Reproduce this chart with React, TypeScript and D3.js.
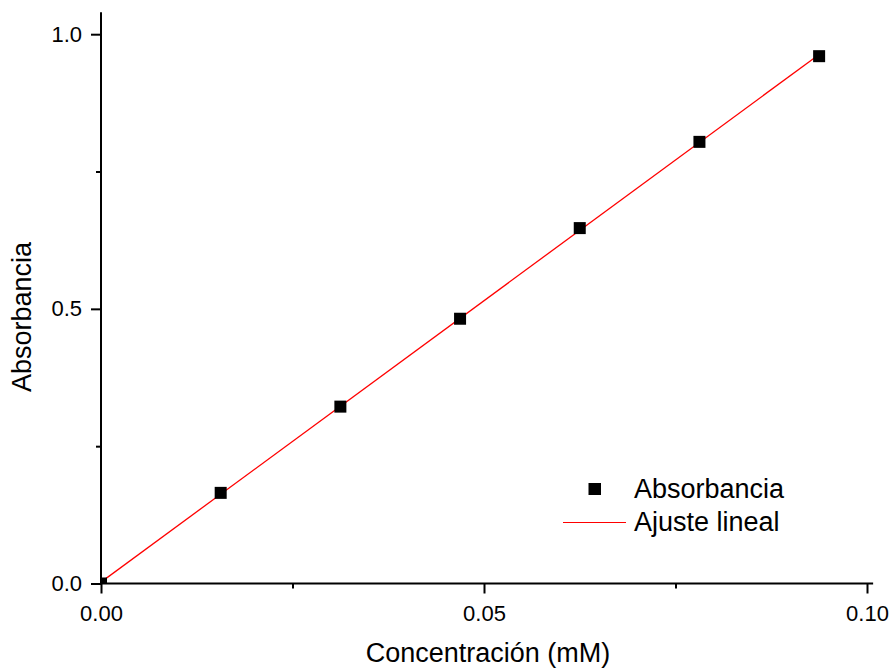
import React, { useEffect, useRef } from "react";
import * as d3 from "d3";

// Calibration data: concentration (mM) vs absorbance
const concentrations = [0, 0.015625, 0.03125, 0.046875, 0.0625, 0.078125, 0.09375];
const absorbances = [0, 0.165, 0.322, 0.482, 0.647, 0.804, 0.96];

const xMajorTicks = [0, 0.05, 0.1];
const xMinorTicks = [0.025, 0.075];
const yMajorTicks = [0, 0.5, 1.0];
const yMinorTicks = [0.25, 0.75];

const legendLabels = ["Absorbancia", "Ajuste lineal"];
const xTitle = "Concentración (mM)";
const yTitle = "Absorbancia";

const WIDTH = 890;
const HEIGHT = 670;
const FONT = "Arial, 'Liberation Sans', Helvetica, sans-serif";

export default function App() {
  const ref = useRef<SVGSVGElement | null>(null);

  useEffect(() => {
    const svg = d3.select(ref.current);
    svg.selectAll("*").remove();

    const x = d3.scaleLinear().domain([0, 0.1]).range([101, 867]);
    const y = d3.scaleLinear().domain([0, 1]).range([583.5, 34.2]);

    // least-squares straight-line fit
    const n = concentrations.length;
    const mx = d3.mean(concentrations) as number;
    const my = d3.mean(absorbances) as number;
    let sxy = 0;
    let sxx = 0;
    for (let i = 0; i < n; i++) {
      sxy += (concentrations[i] - mx) * (absorbances[i] - my);
      sxx += (concentrations[i] - mx) ** 2;
    }
    const slope = sxy / sxx;
    const intercept = my - slope * mx;
    const fitX = [0, concentrations[n - 1]];

    const defs = svg.append("defs");
    defs
      .append("clipPath")
      .attr("id", "plot-clip")
      .append("rect")
      .attr("x", x(0))
      .attr("y", y(1.04))
      .attr("width", x(0.1008) - x(0))
      .attr("height", y(0) - y(1.04));

    const plot = svg.append("g").attr("clip-path", "url(#plot-clip)");

    // fitted line
    const line = d3
      .line<number>()
      .x((d) => x(d))
      .y((d) => y(intercept + slope * d));
    plot
      .append("path")
      .datum(fitX)
      .attr("d", line)
      .attr("fill", "none")
      .attr("stroke", "#ff0000")
      .attr("stroke-width", 1.3);

    // data markers
    const ms = 12;
    plot
      .selectAll("rect.pt")
      .data(concentrations)
      .join("rect")
      .attr("class", "pt")
      .attr("x", (d) => x(d) - ms / 2)
      .attr("y", (_d, i) => y(absorbances[i]) - ms / 2)
      .attr("width", ms)
      .attr("height", ms)
      .attr("fill", "#000");

    // x axis
    const xAxisG = svg.append("g").attr("transform", `translate(0,${y(0)})`);
    xAxisG
      .call(
        d3
          .axisBottom(x)
          .tickValues(xMajorTicks)
          .tickSize(10)
          .tickPadding(12)
          .tickFormat(d3.format(".2f"))
      )
      .call((g) => g.select(".domain").remove());
    xAxisG
      .append("g")
      .call(d3.axisBottom(x).tickValues(xMinorTicks).tickSize(5).tickFormat(() => ""))
      .call((g) => g.select(".domain").remove());
    xAxisG
      .append("line")
      .attr("x1", x(0))
      .attr("x2", x(0.1008))
      .attr("stroke", "#000")
      .attr("stroke-width", 2);

    // y axis
    const yAxisG = svg.append("g").attr("transform", `translate(${x(0)},0)`);
    yAxisG
      .call(
        d3
          .axisLeft(y)
          .tickValues(yMajorTicks)
          .tickSize(10)
          .tickPadding(9)
          .tickFormat(d3.format(".1f"))
      )
      .call((g) => g.select(".domain").remove());
    yAxisG
      .append("g")
      .call(d3.axisLeft(y).tickValues(yMinorTicks).tickSize(5).tickFormat(() => ""))
      .call((g) => g.select(".domain").remove());
    yAxisG
      .append("line")
      .attr("y1", y(0))
      .attr("y2", y(1.04))
      .attr("stroke", "#000")
      .attr("stroke-width", 2);

    svg
      .selectAll(".tick line")
      .attr("stroke", "#000")
      .attr("stroke-width", 2);
    svg
      .selectAll(".tick text")
      .attr("font-family", FONT)
      .attr("font-size", 22)
      .attr("fill", "#000");

    // axis titles
    svg
      .append("text")
      .attr("x", 488)
      .attr("y", 662)
      .attr("text-anchor", "middle")
      .attr("font-family", FONT)
      .attr("font-size", 27)
      .attr("fill", "#000")
      .text(xTitle);
    svg
      .append("text")
      .attr("transform", `translate(31,317) rotate(-90)`)
      .attr("text-anchor", "middle")
      .attr("font-family", FONT)
      .attr("font-size", 27)
      .attr("fill", "#000")
      .text(yTitle);

    // legend
    const lg = svg.append("g");
    lg.append("rect")
      .attr("x", 595 - 6.5)
      .attr("y", 489 - 6)
      .attr("width", 12.5)
      .attr("height", 12)
      .attr("fill", "#000");
    lg.append("line")
      .attr("x1", 563)
      .attr("x2", 626)
      .attr("y1", 522.5)
      .attr("y2", 522.5)
      .attr("stroke", "#ff0000")
      .attr("stroke-width", 1);
    lg.selectAll("text")
      .data(legendLabels)
      .join("text")
      .attr("x", 634)
      .attr("y", (_d, i) => 489 + i * 33)
      .attr("dy", "0.35em")
      .attr("font-family", FONT)
      .attr("font-size", 27)
      .attr("fill", "#000")
      .text((d) => d);
  }, []);

  return (
    <svg
      ref={ref}
      width={WIDTH}
      height={HEIGHT}
      style={{ position: "absolute", left: 0, top: 0, background: "#fff" }}
    />
  );
}
